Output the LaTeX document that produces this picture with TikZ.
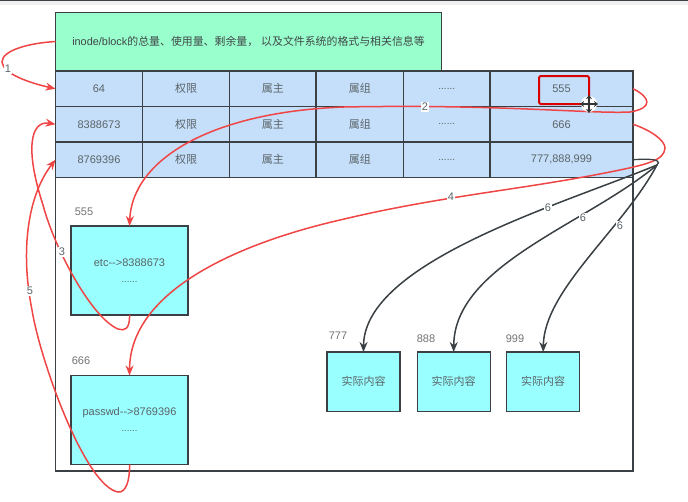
\documentclass[tikz,border=0pt]{standalone}
\usepackage{fontspec}
\setmainfont{Liberation Sans}
\newfontfamily\cjk{Noto Sans CJK SC}
\usetikzlibrary{arrows.meta}
\definecolor{ink}{HTML}{3A4044}
\definecolor{txt}{HTML}{5A6468}
\definecolor{arrowred}{HTML}{F04545}
\definecolor{cellblue}{HTML}{C5DFFA}
\definecolor{cyanfill}{HTML}{99FFFF}
\definecolor{greenfill}{HTML}{99FFCC}
\tikzset{
 x=1pt,y=-1pt,
 cell/.style={draw=ink,line width=1.4pt,fill=cellblue,text=txt,font=\fontsize{11}{13}\selectfont,minimum height=35.5pt,inner sep=0pt,outer sep=0pt},
 cyanbox/.style={draw=ink,line width=1.4pt,fill=cyanfill,text=txt,font=\fontsize{11}{14}\selectfont,inner sep=0pt,outer sep=0pt,align=center},
 blocklabel/.style={text=gray!90!black,font=\fontsize{11}{13}\selectfont,inner sep=0pt},
 lab/.style={text=txt,fill=white,font=\fontsize{11}{13}\selectfont,inner sep=1pt},
 redline/.style={draw=arrowred,line width=1.5pt},
 redarrow/.style={redline,-{Stealth[length=10pt,width=8pt]}},
 blackarrow/.style={draw=ink,line width=1.5pt,-{Stealth[length=10pt,width=8pt]}},
}
\newcommand{\cellrow}[3]{%
 \node[cell,minimum width=87pt] (a#1) at (99,#2) {#3};
 \node[cell,minimum width=87pt] (b#1) at (186,#2) {\cjk 权限};
 \node[cell,minimum width=86.5pt] (c#1) at (272.75,#2) {\cjk 属主};
 \node[cell,minimum width=87.5pt] (d#1) at (359.75,#2) {\cjk 属组};
 \node[cell,minimum width=86.5pt] (e#1) at (446.75,#2) {\fontsize{10}{12}\selectfont ......};
}
\begin{document}
\begin{tikzpicture}
\useasboundingbox (0,0) rectangle (688,501);
\fill[white] (0,0) rectangle (688,501);
\fill[black!6] (0,0) rectangle (688,5);
\fill[ink] (0,0) rectangle (688,1);
% outer frame
\node[draw=ink,line width=1.4pt,minimum width=577.5pt,minimum height=294pt,inner sep=0pt,outer sep=0pt] (frame) at (344.25,324) {};
% header
\node[draw=ink,line width=1.4pt,fill=greenfill,text=txt!70!black,minimum width=386pt,minimum height=58pt,inner sep=0pt,outer sep=0pt,font=\fontsize{10.9}{13}\selectfont] (head) at (248.5,41.5) {inode/block{\cjk 的总量、使用量、剩余量，} {\cjk 以及文件系统的格式与相关信息等}};
% table
\cellrow{1}{88.75}{64}
\cellrow{2}{124.25}{8388673}
\cellrow{3}{159.75}{8769396}
\node[cell,minimum width=143pt] (f1) at (561.5,88.75) {555};
\node[cell,minimum width=143pt] (f2) at (561.5,124.25) {666};
\node[cell,minimum width=143pt] (f3) at (561.5,159.75) {777,888,999};
% highlight
\node[draw=red!85!black,line width=2pt,rounded corners=1.5pt,minimum width=50pt,minimum height=28pt,inner sep=0pt] (mark) at (564,90) {};
% blocks
\node[cyanbox,minimum width=117pt,minimum height=89pt] (b555) at (129.5,270.5) {etc-{}->8388673\\[2pt]{\fontsize{9.5}{10}\selectfont ......}};
\node[cyanbox,minimum width=117pt,minimum height=89pt] (b666) at (129.5,420) {passwd-{}->8769396\\[2pt]{\fontsize{9.5}{10}\selectfont ......}};
\node[cyanbox,minimum width=73pt,minimum height=59.5pt] (b777) at (363.5,381.75) {\cjk 实际内容};
\node[cyanbox,minimum width=73pt,minimum height=59.5pt] (b888) at (453.7,381.75) {\cjk 实际内容};
\node[cyanbox,minimum width=73pt,minimum height=59.5pt] (b999) at (543.2,381.75) {\cjk 实际内容};
\node[blocklabel] (l555) at (84,212) {555};
\node[blocklabel] (l666) at (81,361) {666};
\node[blocklabel] (l777) at (338,336) {777};
\node[blocklabel] (l888) at (426,338.5) {888};
\node[blocklabel] (l999) at (515,338.5) {999};
% red connectors
\coordinate (loop1) at (2,62);
\draw[redarrow] (head.west) .. controls (30,43) and (2,50) .. (loop1) .. controls (3,74) and (30,83) .. (a1.west);
\draw[redarrow] (f1.east) .. controls (650,97) and (654,108) .. (630,112) .. controls (590,114) and (500,104) .. (344,107) .. controls (210,112) and (132,160) .. (b555.north);
\draw[redarrow] (b555.south) .. controls (130,330) and (124,331) .. (118,329) .. controls (92,318) and (55,250) .. (43,205) .. controls (25,150) and (30,120) .. (a2.west);
\draw[redarrow] (f2.east) .. controls (650,130) and (665,140) .. (665,148) .. controls (664,160) and (650,164) .. (610,172) .. controls (520,190) and (440,196) .. (340,220) .. controls (240,243) and (130,290) .. (b666.north);
\draw[redarrow] (b666.south) .. controls (130,480) and (126,493) .. (118,492) .. controls (85,486) and (40,360) .. (32,310) .. controls (20,250) and (28,195) .. (a3.west);
% black connectors
\coordinate (hub) at (657,165);
\draw[draw=ink,line width=1.3pt] (f3.east) .. controls (642,159) and (664,158) .. (hub);
\draw[blackarrow] (hub) .. controls (560,205) and (364,262) .. (b777.north);
\draw[blackarrow] (hub) .. controls (585,225) and (454,265) .. (b888.north);
\draw[blackarrow] (hub) .. controls (622,230) and (544,290) .. (b999.north);
% labels
\node[lab] (e1) at (8,69) {1};
\node[lab] (e2) at (425,107) {2};
\node[lab] (e3) at (62,252) {3};
\node[lab] (e4) at (451,197) {4};
\node[lab] (e5) at (30,291) {5};
\node[lab] (e6a) at (548,208) {6};
\node[lab] (e6b) at (583,218) {6};
\node[lab] (e6c) at (620,226) {6};
% cursor
\fill[white] (589,104) circle (8);
\draw[black!80,line width=2pt,{Stealth[length=4pt,width=6pt]}-{Stealth[length=4pt,width=6pt]}] (580,104) -- (598,104);
\draw[black!80,line width=2pt,{Stealth[length=4pt,width=6pt]}-{Stealth[length=4pt,width=6pt]}] (589,95) -- (589,113);
\end{tikzpicture}
\end{document}
